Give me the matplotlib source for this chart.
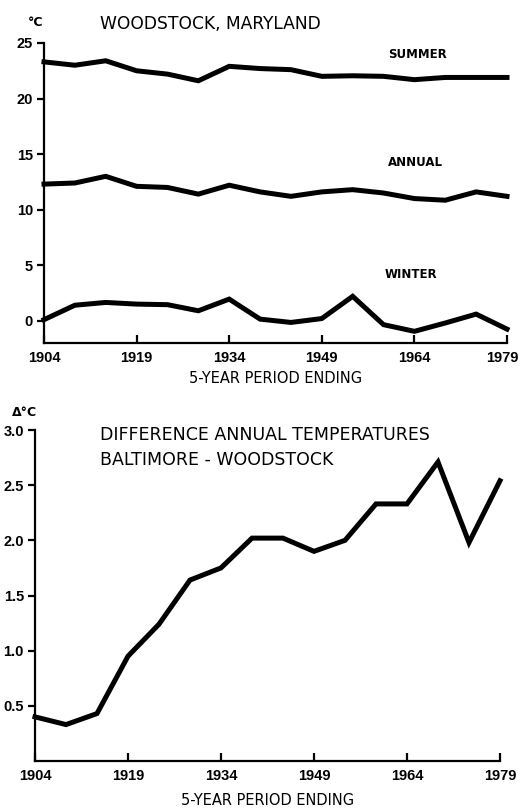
import numpy as np
import matplotlib.pyplot as plt
from matplotlib.transforms import ScaledTranslation

years = [1904, 1909, 1914, 1919, 1924, 1929, 1934, 1939, 1944, 1949,
         1954, 1959, 1964, 1969, 1974, 1979]

summer = [23.3, 23.0, 23.4, 22.5, 22.2, 21.6, 22.9, 22.7, 22.6, 22.0,
          22.05, 22.0, 21.7, 21.9, 21.9, 21.9]
annual = [12.3, 12.4, 13.0, 12.1, 12.0, 11.4, 12.2, 11.6, 11.2, 11.6,
          11.8, 11.5, 11.0, 10.85, 11.6, 11.2]
winter = [0.1, 1.4, 1.65, 1.5, 1.45, 0.9, 1.95, 0.15, -0.15, 0.2,
          2.2, -0.35, -0.95, -0.2, 0.6, -0.75]

diff = [0.40, 0.33, 0.43, 0.95, 1.24, 1.64, 1.75, 2.02, 2.02, 1.90,
        2.0, 2.33, 2.33, 2.71, 1.98, 2.54]

xticks = [1904, 1919, 1934, 1949, 1964, 1979]
top_yticks = [0, 5, 10, 15, 20, 25]
bot_yticks = [0.5, 1.0, 1.5, 2.0, 2.5, 3.0]
bot_yticklabels = ['0.5', '1.0', '1.5', '2.0', '2.5', '3.0']

W, H = 520, 810
TICKFONT = 'Liberation Sans'


def fx(px):
    return px / W


def fy(py):
    return 1 - py / H


def style_axes(ax, fig, shift_last=0):
    ax.spines['top'].set_visible(False)
    ax.spines['right'].set_visible(False)
    for s in ['left', 'bottom']:
        ax.spines[s].set_linewidth(1.6)
    ax.tick_params(axis='x', direction='in', length=6, width=1.6, pad=6,
                   labelsize=10.5)
    ax.tick_params(axis='y', direction='out', length=5, width=1.6, pad=3,
                   labelsize=10.5)
    for lab in ax.get_xticklabels() + ax.get_yticklabels():
        lab.set_fontweight('bold')
        lab.set_family(TICKFONT)
    if shift_last:
        # keep the last year label inside the figure
        last = ax.get_xticklabels()[-1]
        last.set_transform(last.get_transform() +
                           ScaledTranslation(-shift_last / 100, 0,
                                             fig.dpi_scale_trans))


fig = plt.figure(figsize=(5.2, 8.1), dpi=100)

# top panel
ax1 = fig.add_axes([fx(44), fy(343), fx(507) - fx(44), fy(43) - fy(343)])
for series in (summer, annual, winter):
    ax1.plot(years, series, color='black', lw=3.6, clip_on=False,
             solid_joinstyle='miter')
ax1.set_xlim(1904, 1979)
ax1.set_ylim(-2, 25)
ax1.set_xticks(xticks)
ax1.set_yticks(top_yticks)
style_axes(ax1, fig, shift_last=5)
ax1.set_xlabel('5-YEAR PERIOD ENDING', fontsize=10.5, labelpad=4)

fig.text(fx(36), fy(22), '°C', fontsize=9, fontweight='bold',
         ha='center', va='center')
fig.text(fx(100), fy(24), 'WOODSTOCK, MARYLAND', fontsize=12.3,
         ha='left', va='center')
fig.text(fx(388), fy(54), 'SUMMER', fontsize=8.5, fontweight='bold',
         ha='left', va='center')
fig.text(fx(388), fy(163), 'ANNUAL', fontsize=8.5, fontweight='bold',
         ha='left', va='center')
fig.text(fx(385), fy(275), 'WINTER', fontsize=8.5, fontweight='bold',
         ha='left', va='center')

# bottom panel
ax2 = fig.add_axes([fx(35), fy(761), fx(500) - fx(35), fy(430) - fy(761)])
ax2.plot(years, diff, color='black', lw=3.6, clip_on=False,
         solid_joinstyle='miter')
ax2.set_xlim(1904, 1979)
ax2.set_ylim(0, 3.0)
ax2.set_xticks(xticks)
ax2.set_yticks(bot_yticks)
ax2.set_yticklabels(bot_yticklabels)
style_axes(ax2, fig)
ax2.set_xlabel('5-YEAR PERIOD ENDING', fontsize=10.5, labelpad=7)

fig.text(fx(24), fy(412), 'Δ°C', fontsize=9, fontweight='bold',
         ha='center', va='center')
fig.text(fx(100), fy(435), 'DIFFERENCE ANNUAL TEMPERATURES', fontsize=12.5,
         ha='left', va='center')
fig.text(fx(100), fy(460), 'BALTIMORE - WOODSTOCK', fontsize=12.5,
         ha='left', va='center')

fig.savefig('out.png', dpi=100)
